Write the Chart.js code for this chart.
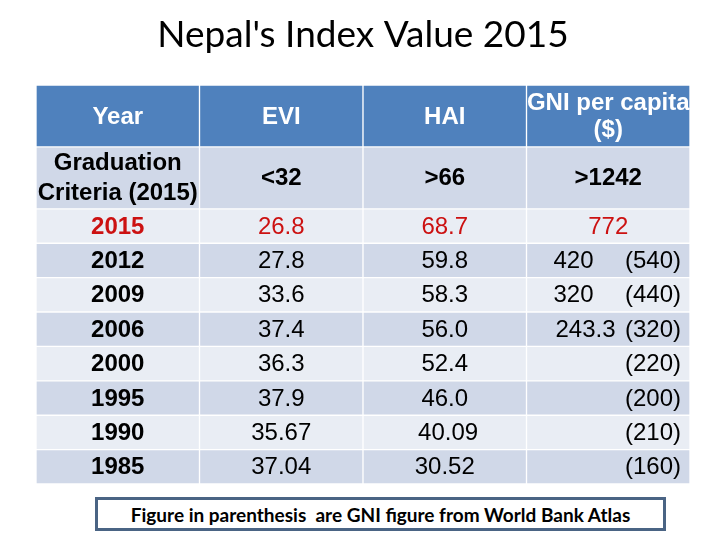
<!DOCTYPE html>
<html>
<head>
<meta charset="utf-8">
<title>Nepal's Index Value 2015</title>
<script src="https://cdn.jsdelivr.net/npm/chart.js@4"></script>
<style>
  html, body { margin: 0; padding: 0; background: #fff; }
  #wrap { position: relative; width: 720px; height: 540px; }
  #note {
    position: absolute; left: 95px; top: 497px; width: 565px; height: 28px;
    border: 3px solid #4a6484; background: #fff;
    font: bold 19px Lato, "Open Sans", sans-serif; color: #000;
    text-align: center; line-height: 29px;
  }
</style>
</head>
<body>
<div id="wrap">
  <canvas id="table" width="720" height="540"></canvas>
  <div id="note">Figure in parenthesis&nbsp; are GNI figure from World Bank Atlas</div>
</div>
<script>
const columns = ["Year", "EVI", "HAI", "GNI per capita\n($)"];
const criteria = ["Graduation\nCriteria (2015)", "<32", ">66", ">1242"];
const years = ["2015", "2012", "2009", "2006", "2000", "1995", "1990", "1985"];
const evi = ["26.8", "27.8", "33.6", "37.4", "36.3", "37.9", "35.67", "37.04"];
const hai = ["68.7", "59.8", "58.3", "56.0", "52.4", "46.0", " 40.09", "30.52"];
const gni = ["772", "420", "320", "243.3", "", "", "", ""];
const gniAtlas = ["", "(540)", "(440)", "(320)", "(220)", "(200)", "(210)", "(160)"];

// row spans in row units (header and criteria rows are taller)
const tallRow = 1.8;
const rowSpans = [[0, tallRow], [tallRow, tallRow * 2]];
years.forEach((y, i) => rowSpans.push([tallRow * 2 + i, tallRow * 2 + i + 1]));
const totalRows = tallRow * 2 + years.length;

const headBlue = "#4f81bd";
const darkRow = "#d0d8e8";
const lightRow = "#e9edf4";
const rowColors = [headBlue, darkRow].concat(years.map((y, i) => i % 2 ? darkRow : lightRow));

const cellFont = '"Liberation Sans", Arial, sans-serif';

// text for each row, one entry per column
const rowTexts = [columns, criteria].concat(years.map((y, i) => [y, evi[i], hai[i], gni[i]]));

const cellText = {
  id: "cellText",
  afterDatasetsDraw(chart) {
    const ctx = chart.ctx;
    const xs = chart.scales.x, ys = chart.scales.y;
    const half = (xs.getPixelForValue(1) - xs.getPixelForValue(0)) / 2;
    ctx.save();
    ctx.textBaseline = "middle";
    rowTexts.forEach((texts, r) => {
      const yMid = ys.getPixelForValue((rowSpans[r][0] + rowSpans[r][1]) / 2);
      const red = r === 2;
      texts.forEach((t, c) => {
        const cx = xs.getPixelForValue(c);
        let weight = "normal", color = "#000";
        if (r === 0) color = "#fff";
        if (r <= 1 || c === 0) weight = "bold";
        if (red) color = "#cc1111";
        ctx.fillStyle = color;
        ctx.font = weight + " 24px " + cellFont;
        const lines = t.split("\n");
        const gap = r === 0 ? 27 : 30;
        // GNI column with Atlas figure: left value + right-aligned parenthesis
        if (c === 3 && r >= 2 && gniAtlas[r - 2]) {
          ctx.textAlign = "right";
          ctx.fillText(gniAtlas[r - 2], cx + half - 9, yMid + 1);
          if (t) {
            ctx.textAlign = "left";
            ctx.fillText(t, cx - half + (t.length > 3 ? 29 : 27), yMid + 1);
          }
          return;
        }
        ctx.textAlign = "center";
        lines.forEach((ln, k) => {
          const off = (k - (lines.length - 1) / 2) * gap;
          ctx.fillText(ln, cx, yMid + off + 1);
        });
      });
    });
    ctx.restore();
  }
};

new Chart(document.getElementById("table"), {
  type: "bar",
  data: {
    labels: columns,
    datasets: rowSpans.map((span, r) => ({
      label: "row" + r,
      data: columns.map(() => span),
      backgroundColor: rowColors[r],
      borderColor: "#ffffff",
      borderWidth: 1,
      borderSkipped: false,
      grouped: false,
      barPercentage: 1,
      categoryPercentage: 1
    }))
  },
  options: {
    responsive: false,
    animation: false,
    layout: { padding: { left: 36, right: 30, top: 0, bottom: 56 } },
    plugins: {
      legend: { display: false },
      tooltip: { enabled: false },
      title: {
        display: true,
        text: "Nepal's Index Value 2015",
        color: "#000",
        font: { family: "Lato, 'Open Sans', sans-serif", size: 37, weight: "normal" },
        padding: { top: 13, bottom: 27.6 }
      }
    },
    scales: {
      x: { type: "category", display: false, offset: true },
      y: { type: "linear", display: false, reverse: true, min: 0, max: totalRows }
    }
  },
  plugins: [cellText]
});
</script>
</body>
</html>
